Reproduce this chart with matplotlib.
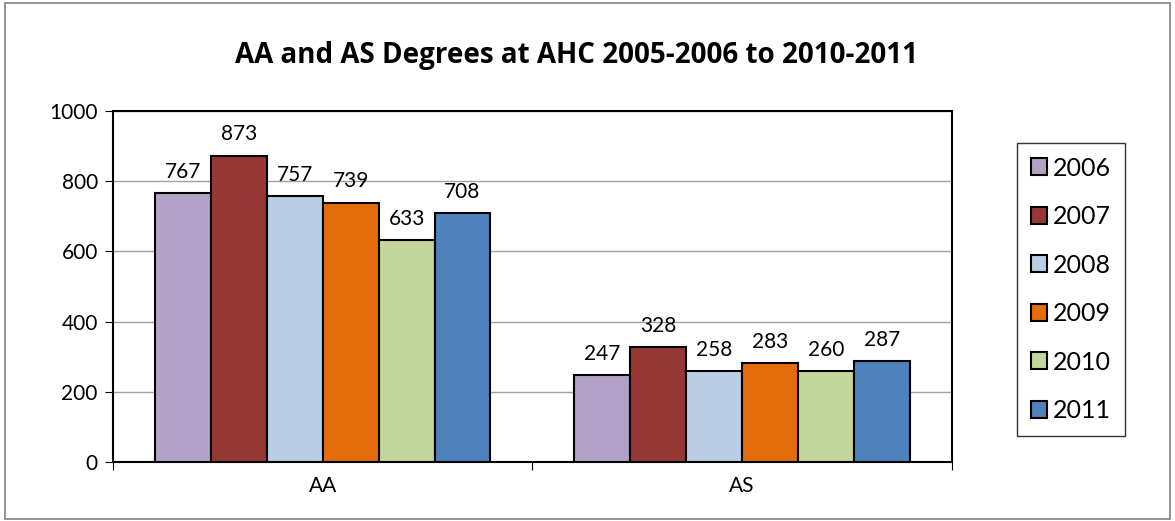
import numpy as np
import matplotlib
matplotlib.use("Agg")
import matplotlib.pyplot as plt
from matplotlib.patches import Rectangle

plt.rcParams['font.family'] = ['Lato', 'DejaVu Sans']

categories = ["AA", "AS"]
years = ["2006", "2007", "2008", "2009", "2010", "2011"]
values = {
    "2006": [767, 247],
    "2007": [873, 328],
    "2008": [757, 258],
    "2009": [739, 283],
    "2010": [633, 260],
    "2011": [708, 287],
}
colors = ["#B3A2C7", "#953735", "#B9CDE5", "#E46C0A", "#C3D69B", "#4F81BD"]

fig = plt.figure(figsize=(11.75, 5.21), dpi=100)
ax = fig.add_axes([0.0962, 0.1133, 0.7138, 0.6737])

x = np.arange(len(categories))
w = 0.8 / len(years)
for i, yr in enumerate(years):
    pos = x - 0.4 + w * (i + 0.5)
    bars = ax.bar(pos, values[yr], w, color=colors[i], edgecolor="black",
                  linewidth=1.5, label=yr, zorder=3)
    for b, v in zip(bars, values[yr]):
        ax.annotate(str(v), (b.get_x() + b.get_width() / 2, v),
                    xytext=(0, 8), textcoords="offset points",
                    ha="center", va="bottom", fontsize=15)

ax.set_xlim(-0.5, 1.5)
ax.set_ylim(0, 1000)
ax.set_yticks(range(0, 1001, 200))
ax.yaxis.grid(True, color="#A0A0A0", linewidth=1, zorder=0)
ax.set_axisbelow(True)

ax.set_xticks([-0.5, 0.5, 1.5])
ax.set_xticklabels([])
ax.set_xticks(x, minor=True)
ax.set_xticklabels(categories, minor=True, fontsize=15)
ax.tick_params(axis="x", which="minor", length=0, pad=10)
ax.tick_params(axis="x", which="major", length=6, direction="out", color="black")
ax.tick_params(axis="y", length=6, direction="out", labelsize=15, pad=5)

for s in ax.spines.values():
    s.set_linewidth(1.5)
    s.set_color("black")

fig.text(0.491, 0.894, "AA and AS Degrees at AHC 2005-2006 to 2010-2011",
         fontsize=20, fontweight="bold", family=["Open Sans", "DejaVu Sans"],
         ha="center", va="center")

leg = ax.legend(loc="upper left", bbox_to_anchor=(1.063, 0.945), fontsize=18,
                frameon=True, fancybox=False, edgecolor="black",
                handlelength=0.65, handleheight=0.65, handletextpad=0.25,
                labelspacing=1.02, borderpad=0.55)
leg.get_frame().set_linewidth(1.0)
for h in leg.legend_handles:
    h.set_linewidth(1.5)

fig.patches.append(Rectangle((0.004, 0.004), 0.992, 0.99, transform=fig.transFigure,
                             fill=False, edgecolor="#808080", linewidth=1.2))

fig.savefig("out.png", dpi=100)
